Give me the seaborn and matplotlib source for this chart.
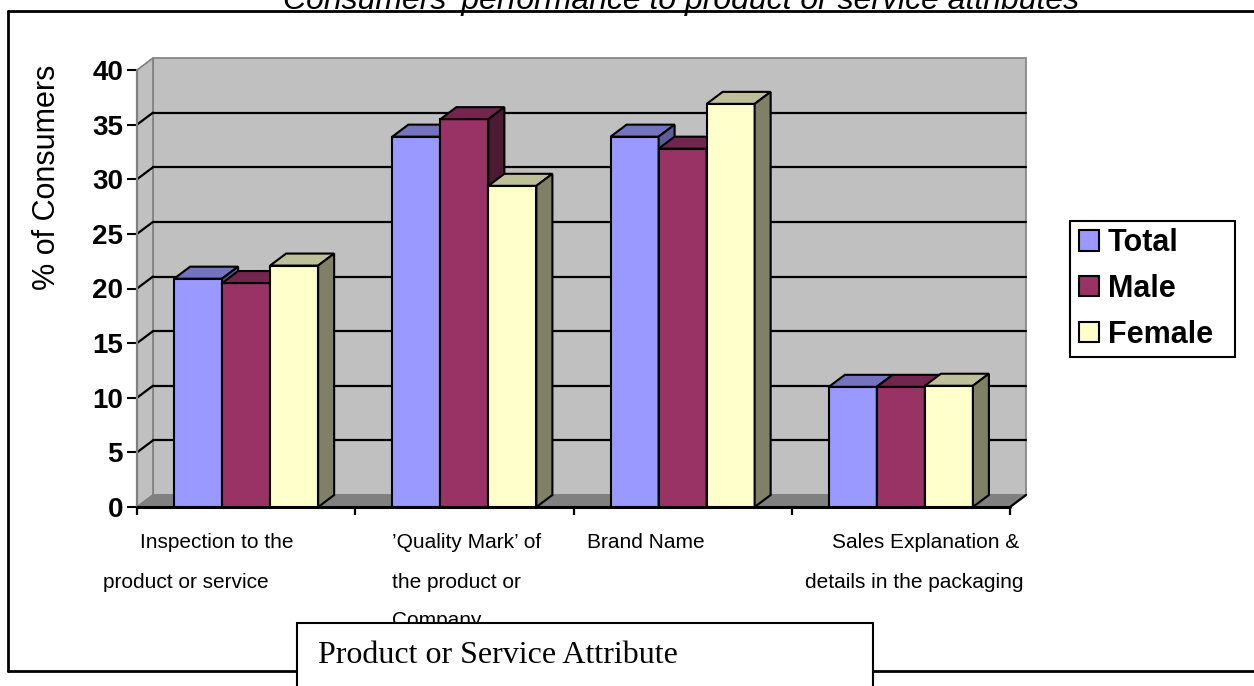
import matplotlib
matplotlib.use("Agg")
import matplotlib.pyplot as plt
import matplotlib.colors as mcolors
from matplotlib.patches import Polygon, Rectangle, Patch
from matplotlib.lines import Line2D
import pandas as pd
import seaborn as sns

# ---- data -------------------------------------------------------------
attributes = [
    "Inspection to the product or service",
    "’Quality Mark’ of the product or Company",
    "Brand Name",
    "Sales Explanation & details in the packaging",
]
groups = ["Total", "Male", "Female"]
total = [20.9, 33.9, 33.9, 11.0]
male = [20.5, 35.5, 32.8, 11.0]
female = [22.1, 29.4, 36.9, 11.1]
y_ticks = [0, 5, 10, 15, 20, 25, 30, 35, 40]

title = "Consumers' performance to product or service attributes"
y_title = "% of Consumers"
x_title = "Product or Service Attribute"

# wrapped category labels as they are laid out under the axis
label_lines = [
    ["Inspection to the", "product or service"],
    ["’Quality Mark’ of", "the product or", "Company"],
    ["Brand Name"],
    ["Sales Explanation &", "details in the packaging"],
]
label_left_px = [[140, 103], [392, 392, 392], [587], [832, 805]]
line_y_px = [542, 583, 620]

# ---- styling ----------------------------------------------------------
front_c = {"Total": "#9999ff", "Male": "#993366", "Female": "#ffffcc"}
top_c = {"Total": "#7373bf", "Male": "#73264d", "Female": "#bfbf99"}
side_c = {"Total": "#5c5c99", "Male": "#4d1a33", "Female": "#808066"}

sns.set_theme(style="white")
plt.rcParams["font.family"] = ["Liberation Sans", "DejaVu Sans"]
plt.rcParams["text.color"] = "black"
plt.rcParams["xtick.color"] = "black"
plt.rcParams["ytick.color"] = "black"
plt.rcParams["axes.labelcolor"] = "black"

W, H = 1254, 686
fig = plt.figure(figsize=(W / 100, H / 100), dpi=100)
fig.patch.set_facecolor("white")


def fx(px):
    return px / W


def fy(py):
    return 1 - py / H


df = pd.DataFrame({
    "Attribute": attributes * 3,
    "Group": ["Total"] * 4 + ["Male"] * 4 + ["Female"] * 4,
    "Percent": total + male + female,
})

# front plane of the 3-D box
ax = fig.add_axes([fx(137), fy(507), 873 / W, 437 / H])
sns.barplot(data=df, x="Attribute", y="Percent", hue="Group",
            order=attributes, hue_order=groups, palette=front_c,
            width=0.66, saturation=1, edgecolor="black", linewidth=1.5,
            legend=False, ax=ax)
ax.set_xlim(-0.5, 3.5)
ax.set_ylim(0, 40)
ax.patch.set_visible(False)
for s in ax.spines.values():
    s.set_visible(False)
ax.set_xlabel("")
ax.set_ylabel("")

# depth offset of the box (in data units)
DX = 16 / 218.25
DY = 12 / 10.925

x0, x1, ytop = -0.5, 3.5, 40
wall_kw = dict(clip_on=False, linewidth=1.2, joinstyle="miter")
ax.add_patch(Polygon([(x0 + DX, DY), (x1 + DX, DY), (x1 + DX, ytop + DY), (x0 + DX, ytop + DY)],
                     facecolor="#c0c0c0", edgecolor="#808080", zorder=0.5, **wall_kw))
ax.add_patch(Polygon([(x0, 0), (x0 + DX, DY), (x0 + DX, ytop + DY), (x0, ytop)],
                     facecolor="#c0c0c0", edgecolor="#808080", zorder=0.6, **wall_kw))
ax.add_patch(Polygon([(x0, 0), (x1, 0), (x1 + DX, DY), (x0 + DX, DY)],
                     facecolor="#808080", edgecolor="#808080", zorder=0.7, **wall_kw))
for v in y_ticks[1:-1]:
    ax.add_line(Line2D([x0 + DX, x1 + DX], [v + DY, v + DY], color="black",
                       linewidth=1.6, zorder=0.8, clip_on=False))
    ax.add_line(Line2D([x0, x0 + DX], [v, v + DY], color="black",
                       linewidth=1.6, zorder=0.8, clip_on=False))
ax.add_line(Line2D([x0, x0], [0, ytop], color="#808080", linewidth=1.6,
                   zorder=3, clip_on=False))
ax.add_line(Line2D([x0, x1], [0, 0], color="black", linewidth=2.2,
                   zorder=3, clip_on=False))
ax.add_line(Line2D([x1, x1 + DX], [0, DY], color="black", linewidth=1.6,
                   zorder=3, clip_on=False))

# axis ticks
ax.set_yticks(y_ticks)
ax.set_yticklabels([str(v) for v in y_ticks], fontsize=20, fontweight="bold")
ax.tick_params(axis="y", left=True, direction="out", length=7, width=1.5,
               color="black", pad=3, labelcolor="black")
ax.set_xticks([-0.5, 0.5, 1.5, 2.5, 3.5])
ax.set_xticklabels([])
ax.tick_params(axis="x", bottom=True, direction="out", length=5.5, width=1.6,
               color="black")

# extrude the seaborn bars into 3-D columns
hex_to_group = {mcolors.to_hex(c): g for g, c in front_c.items()}
bars = [p for p in ax.patches if isinstance(p, Rectangle) and p.get_height() > 0
        and mcolors.to_hex(p.get_facecolor()) in hex_to_group]
bars.sort(key=lambda p: p.get_x())
for rank, p in enumerate(bars):
    g = hex_to_group[mcolors.to_hex(p.get_facecolor())]
    bx, bw, bh = p.get_x(), p.get_width(), p.get_height()
    z = 10 + 3 * rank
    p.set_zorder(z)
    p.set_clip_on(False)
    ax.add_patch(Polygon([(bx, bh), (bx + bw, bh), (bx + bw + DX, bh + DY), (bx + DX, bh + DY)],
                         facecolor=top_c[g], edgecolor="black", linewidth=1.5,
                         zorder=z + 1, clip_on=False, joinstyle="miter"))
    ax.add_patch(Polygon([(bx + bw, 0), (bx + bw + DX, DY), (bx + bw + DX, bh + DY), (bx + bw, bh)],
                         facecolor=side_c[g], edgecolor="black", linewidth=1.5,
                         zorder=z + 1, clip_on=False, joinstyle="miter"))

# category labels
for lines, xs in zip(label_lines, label_left_px):
    for i, (txt, px) in enumerate(zip(lines, xs)):
        fig.text(fx(px), fy(line_y_px[i]), txt, ha="left", va="center",
                 fontsize=15, color="black")

# legend with a square-cornered box
fig.add_artist(Rectangle((fx(1070), fy(357)), (1235 - 1070) / W, (357 - 221) / H,
                         facecolor="white", edgecolor="black", linewidth=1.5))
handles = [Patch(facecolor=front_c[g], edgecolor="black", linewidth=1.5) for g in groups]
leg = fig.legend(handles, groups, loc="center left",
                 bbox_to_anchor=(fx(1079), fy(289)), frameon=False,
                 prop={"size": 22, "weight": "bold"}, handlelength=0.65,
                 handleheight=0.65, handletextpad=0.3, labelspacing=0.52,
                 borderpad=0, borderaxespad=0)
for t in leg.get_texts():
    t.set_color("black")

# outer chart border
fig.add_artist(Line2D([fx(8), fx(8)], [fy(11), fy(671)], color="black", linewidth=2))
fig.add_artist(Line2D([fx(8), fx(1254)], [fy(11), fy(11)], color="black", linewidth=2))
fig.add_artist(Line2D([fx(8), fx(1254)], [fy(671), fy(671)], color="black", linewidth=2))

# chart titles
fig.text(fx(681), fy(9), title, ha="center", va="baseline", fontsize=23,
         style="italic", color="black")
fig.text(fx(47), fy(177), y_title, ha="center", va="center", rotation=90,
         fontsize=22, color="black")

# axis title box
fig.add_artist(Rectangle((fx(297), fy(700)), (873 - 297) / W, (700 - 623) / H,
                         facecolor="white", edgecolor="black", linewidth=1.5,
                         zorder=5))
fig.text(fx(318), fy(663), x_title, ha="left", va="baseline", fontsize=23,
         family=["Liberation Serif", "DejaVu Serif"], color="black", zorder=6)

fig.savefig("out.png", dpi=100)
